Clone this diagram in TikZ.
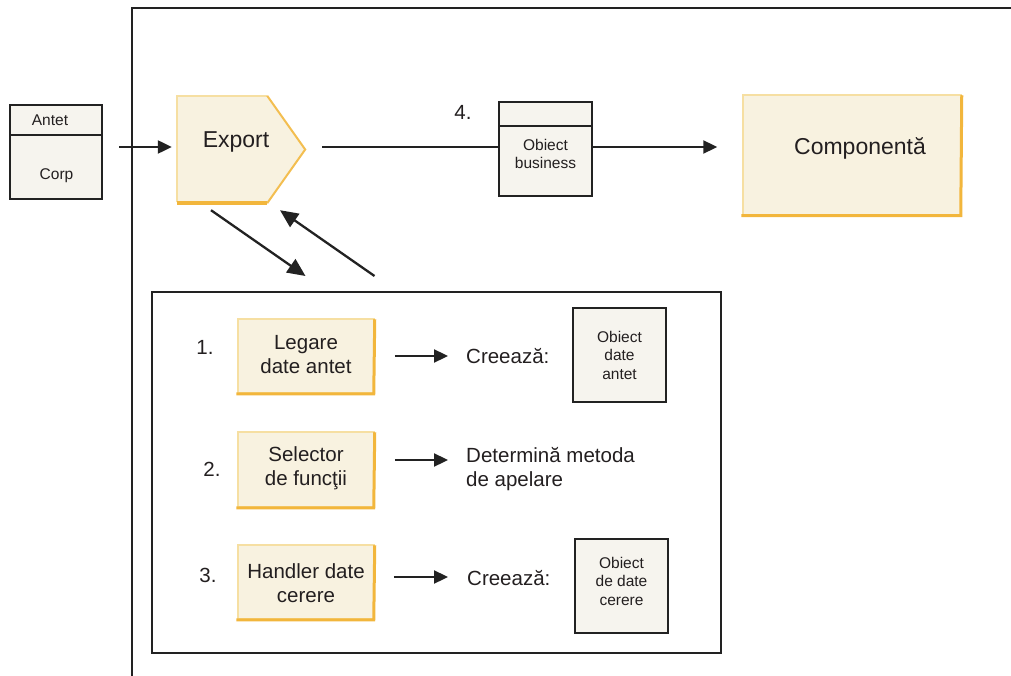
\documentclass[tikz,border=0pt]{standalone}
\usepackage{fontspec}
\setmainfont{Liberation Sans}
\usetikzlibrary{arrows.meta,calc}
\definecolor{yfill}{HTML}{F8F2E0}
\definecolor{ylight}{HTML}{F6DFA2}
\definecolor{ydark}{HTML}{F2B63C}
\definecolor{ofill}{HTML}{F6F4EE}
\definecolor{txt}{HTML}{231F20}
\definecolor{lin}{HTML}{222222}
\tikzset{
  big/.style={font=\fontsize{23}{27}\selectfont},
  mid/.style={font=\fontsize{20.5}{24}\selectfont},
  sml/.style={font=\fontsize{15.5}{18.5}\selectfont},
  ybox/.style={fill=yfill, draw=ylight, line width=1.5pt, inner sep=0pt, align=center, text=txt},
  obox/.style={fill=ofill, draw=lin, line width=2pt, inner sep=0pt, align=center, text=txt},
  conn/.style={draw=lin, line width=2.3pt},
  arr/.style={conn, -{Triangle[length=14pt,width=13pt]}},
  darr/.style={conn, -{Triangle[length=18pt,width=16pt]}},
  frame/.style={draw=lin, line width=2.4pt},
  lbl/.style={text=txt, inner sep=0pt}
}
\newcommand{\yshade}[1]{\draw[ydark, line width=3pt] ([xshift=-1pt]#1.south west) -- ([xshift=-1pt]#1.south east) -- ([yshift=-1pt]#1.north east);}
\begin{document}
\begin{tikzpicture}[x=1pt,y=-1pt]
\useasboundingbox (0,0) rectangle (1011,676);
% outer frame
\coordinate (fbl) at (132,676);
\coordinate (ftl) at (132,8);
\coordinate (ftr) at (1011,8);
\draw[frame] (fbl) -- (ftl) -- (ftr);

% Antet / Corp message
\node[obox, minimum width=92pt, minimum height=94pt] (msg) at (56,152) {};
\draw[lin, line width=2pt] (msg.west |- 0,135) -- (msg.east |- 0,135);
\node[lbl, sml] (antet) at (50,120) {Antet};
\node[lbl, sml] (corp) at (56.5,176) {Corp};

% Export
\node[inner sep=0pt, minimum width=128pt, minimum height=107pt] (export) at (241,149.5) {};
\fill[yfill] (export.north west) -- ($(export.north east)+(-38,0)$) -- (export.east) -- ($(export.south east)+(-38,0)$) -- (export.south west) -- cycle;
\draw[ylight, line width=1.8pt] ($(export.south west)+(0,-1)$) -- (export.north west) -- ($(export.north east)+(-38,0)$);
\draw[ydark!80!ylight, line width=2pt] ($(export.north east)+(-38,0)$) -- (export.east) -- ($(export.south east)+(-38,0)$);
\draw[ydark, line width=3.5pt] ($(export.south east)+(-38,0)$) -- (export.south west);
\node[lbl, big] (exportlbl) at (236,142) {Export};

% Business object
\node[obox, minimum width=93pt, minimum height=94pt] (biz) at (545.5,149) {};
\draw[lin, line width=2pt] (biz.west |- 0,126) -- (biz.east |- 0,126);
\node[lbl, sml, align=center] (biztxt) at (545.5,154) {Obiect\\business};
\node[lbl, mid] (four) at (463,112) {4.};

% Component
\node[ybox, big, minimum width=218pt, minimum height=120pt] (comp) at (852,155) {};
\yshade{comp}
\node[lbl, big] (comptxt) at (860,148) {Componentă};

% connectors top
\draw[arr, shorten >=5pt] ([xshift=16pt]msg.east |- 0,147) -- (export.west |- 0,147);
\draw[conn] ([xshift=17pt]export.east |- 0,147) -- (biz.west |- 0,147);
\draw[arr, shorten >=25pt] (biz.east |- 0,147) -- (comp.west |- 0,147);

% inner box
\node[draw=lin, line width=2pt, inner sep=0pt, minimum width=569pt, minimum height=361pt] (inner) at (436,472.5) {};

% diagonal arrows
\coordinate (d1s) at ($(export.south)+(-30,7)$);
\coordinate (d1e) at ($(inner.north west)+(155,-15)$);
\coordinate (d2s) at ($(inner.north west)+(224,-15)$);
\coordinate (d2e) at ($(export.south)+(39,7)$);
\draw[darr] (d1s) -- (d1e);
\draw[darr] (d2s) -- (d2e);

% step 1
\node[lbl, mid] (n1) at (205,347) {1.};
\node[ybox, mid, minimum width=136pt, minimum height=74pt] (s1) at (306,356) {};
\yshade{s1}
\node[lbl, mid, align=center] (s1t) at (306,355) {Legare\\date antet};
\node[lbl, mid, anchor=west] (c1) at (466,356) {Creează:};
\node[obox, minimum width=93pt, minimum height=94pt] (o1) at (619.5,355) {};
\node[lbl, sml, align=center] (o1t) at (619.5,355) {Obiect\\date\\antet};
\draw[arr] ([xshift=20pt]s1.east |- 0,356) -- ([xshift=-18pt]c1.west |- 0,356);

% step 2
\node[lbl, mid] (n2) at (212,469) {2.};
\node[ybox, mid, minimum width=136pt, minimum height=75pt] (s2) at (306,469.5) {};
\yshade{s2}
\node[lbl, mid, align=center] (s2t) at (306,468) {Selector\\de funcţii};
\node[lbl, mid, anchor=north west, align=left] (c2) at (466,447) {Determină metoda\\de apelare};
\draw[arr] ([xshift=20pt]s2.east |- 0,460) -- ([xshift=-18pt]c2.west |- 0,460);

% step 3
\node[lbl, mid] (n3) at (208,575) {3.};
\node[ybox, mid, minimum width=136pt, minimum height=74pt] (s3) at (306,582) {};
\yshade{s3}
\node[lbl, mid, align=center] (s3t) at (306,583) {Handler date\\cerere};
\node[lbl, mid, anchor=west] (c3) at (467,578) {Creează:};
\node[obox, minimum width=93pt, minimum height=94pt] (o3) at (621.5,586) {};
\node[lbl, sml, align=center] (o3t) at (621.5,581) {Obiect\\de date\\cerere};
\draw[arr] ([xshift=19pt]s3.east |- 0,577) -- ([xshift=-19pt]c3.west |- 0,577);
\end{tikzpicture}
\end{document}
